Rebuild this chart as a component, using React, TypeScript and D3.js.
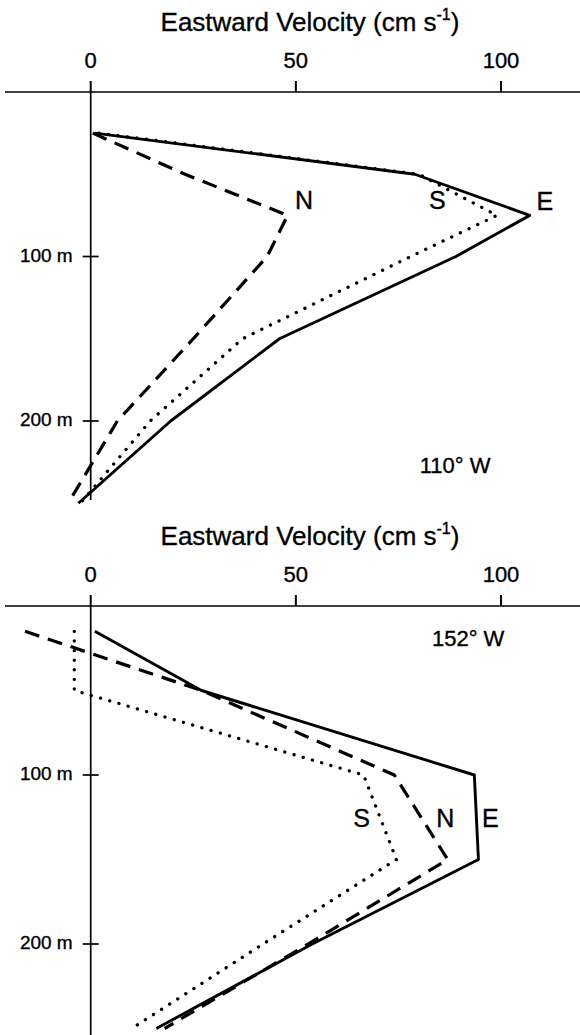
import React from "react";
import * as d3 from "d3";

// Top panel (110° W)
const depthsTop = [25, 50, 75, 100, 150, 200, 250];
const eastTopE = [1, 79, 107, 89, 46, 19.5, -3];
const eastTopS = [2, 80, 99, 78, 37, 14.5, -2.5];
const eastTopN = [0.5, 23, 48, 43, 25, 6.5, -5.5];

// Bottom panel (152° W)
const depthsBot = [15, 50, 100, 150, 200, 250];
const eastBotE = [1, 27, 93.5, 94.5, 54, 16];
const eastBotS = [-4, -4, 66.5, 74.5, 42, 10];
const eastBotN = [-16, 27, 74, 87, 53, 18];

const velTicks = [0, 50, 100];
const depthTicks = [100, 200];
const FONT = "'Liberation Sans', Arial, sans-serif";

type Series = { key: string; depths: number[]; vals: number[] };

function Panel({
  yScale,
  xScale,
  series,
  bottomY,
  labels,
  station,
}: {
  yScale: d3.ScaleLinear<number, number>;
  xScale: d3.ScaleLinear<number, number>;
  series: Series[];
  bottomY: number;
  labels: { t: string; v: number; d: number }[];
  station: { t: string; v: number; d: number };
}) {
  const y0 = yScale(0);
  const line = (s: Series) =>
    d3
      .line<number>()
      .x((v) => xScale(v))
      .y((_, i) => yScale(s.depths[i]))(s.vals) || "";
  const styleOf = (k: string) =>
    k === "E"
      ? { strokeWidth: 2.9 }
      : k === "N"
      ? { strokeWidth: 3.2, strokeDasharray: "15 9" }
      : { strokeWidth: 3.3, strokeDasharray: "0.1 9.5", strokeLinecap: "round" as const };
  const txt = { fontFamily: FONT, dominantBaseline: "middle" as const, stroke: "#000", strokeWidth: 0.35 };
  return (
    <g>
      <text x={310} y={y0 - 68} textAnchor="middle" fontSize={26} {...txt}>
        Eastward Velocity (cm s
        <tspan dy={-8} fontSize={16}>-1</tspan>
        <tspan dy={8}>)</tspan>
      </text>
      {velTicks.map((t) => (
        <text key={t} x={xScale(t)} y={y0 - 30} textAnchor="middle" fontSize={22} {...txt}>
          {t}
        </text>
      ))}
      <line x1={5} x2={580} y1={y0} y2={y0} stroke="#000" strokeWidth={1.6} />
      {velTicks.map((t) => (
        <line key={t} x1={xScale(t)} x2={xScale(t)} y1={y0 - 11} y2={y0} stroke="#000" strokeWidth={2} />
      ))}
      <line x1={xScale(0)} x2={xScale(0)} y1={y0} y2={bottomY} stroke="#000" strokeWidth={1.7} />
      {depthTicks.map((d) => (
        <g key={d}>
          <line x1={xScale(0) - 8} x2={xScale(0) + 8} y1={yScale(d)} y2={yScale(d)} stroke="#000" strokeWidth={1.7} />
          <text x={xScale(0) - 18} y={yScale(d)} textAnchor="end" fontSize={19} {...txt}>
            {d} m
          </text>
        </g>
      ))}
      {series.map((s) => (
        <path key={s.key} d={line(s)} fill="none" stroke="#000" strokeLinejoin="round" {...styleOf(s.key)} />
      ))}
      {labels.map((l) => (
        <text key={l.t} x={xScale(l.v)} y={yScale(l.d)} textAnchor="middle" fontSize={25} {...txt}>
          {l.t}
        </text>
      ))}
      <text x={xScale(station.v)} y={yScale(station.d)} textAnchor="middle" fontSize={22} {...txt}>
        {station.t}
      </text>
    </g>
  );
}

export default function App() {
  const xScale = d3.scaleLinear().domain([0, 100]).range([90.7, 501]);
  const yTop = d3.scaleLinear().domain([0, 200]).range([92, 421]);
  const yBot = d3.scaleLinear().domain([0, 200]).range([606, 944]);
  return (
    <svg width={580} height={1035} style={{ position: "absolute", left: 0, top: 0, background: "#fff" }}>
      <Panel
        xScale={xScale}
        yScale={yTop}
        bottomY={500}
        series={[
          { key: "E", depths: depthsTop, vals: eastTopE },
          { key: "S", depths: depthsTop, vals: eastTopS },
          { key: "N", depths: depthsTop, vals: eastTopN },
        ]}
        labels={[
          { t: "N", v: 52, d: 67 },
          { t: "S", v: 84.5, d: 67 },
          { t: "E", v: 110.7, d: 67.5 },
        ]}
        station={{ t: "110° W", v: 88.8, d: 228 }}
      />
      <Panel
        xScale={xScale}
        yScale={yBot}
        bottomY={1035}
        series={[
          { key: "E", depths: depthsBot, vals: eastBotE },
          { key: "S", depths: depthsBot, vals: eastBotS },
          { key: "N", depths: depthsBot, vals: eastBotN },
        ]}
        labels={[
          { t: "S", v: 66, d: 127 },
          { t: "N", v: 86.4, d: 127 },
          { t: "E", v: 97.4, d: 126.6 },
        ]}
        station={{ t: "152° W", v: 92, d: 20 }}
      />
    </svg>
  );
}
